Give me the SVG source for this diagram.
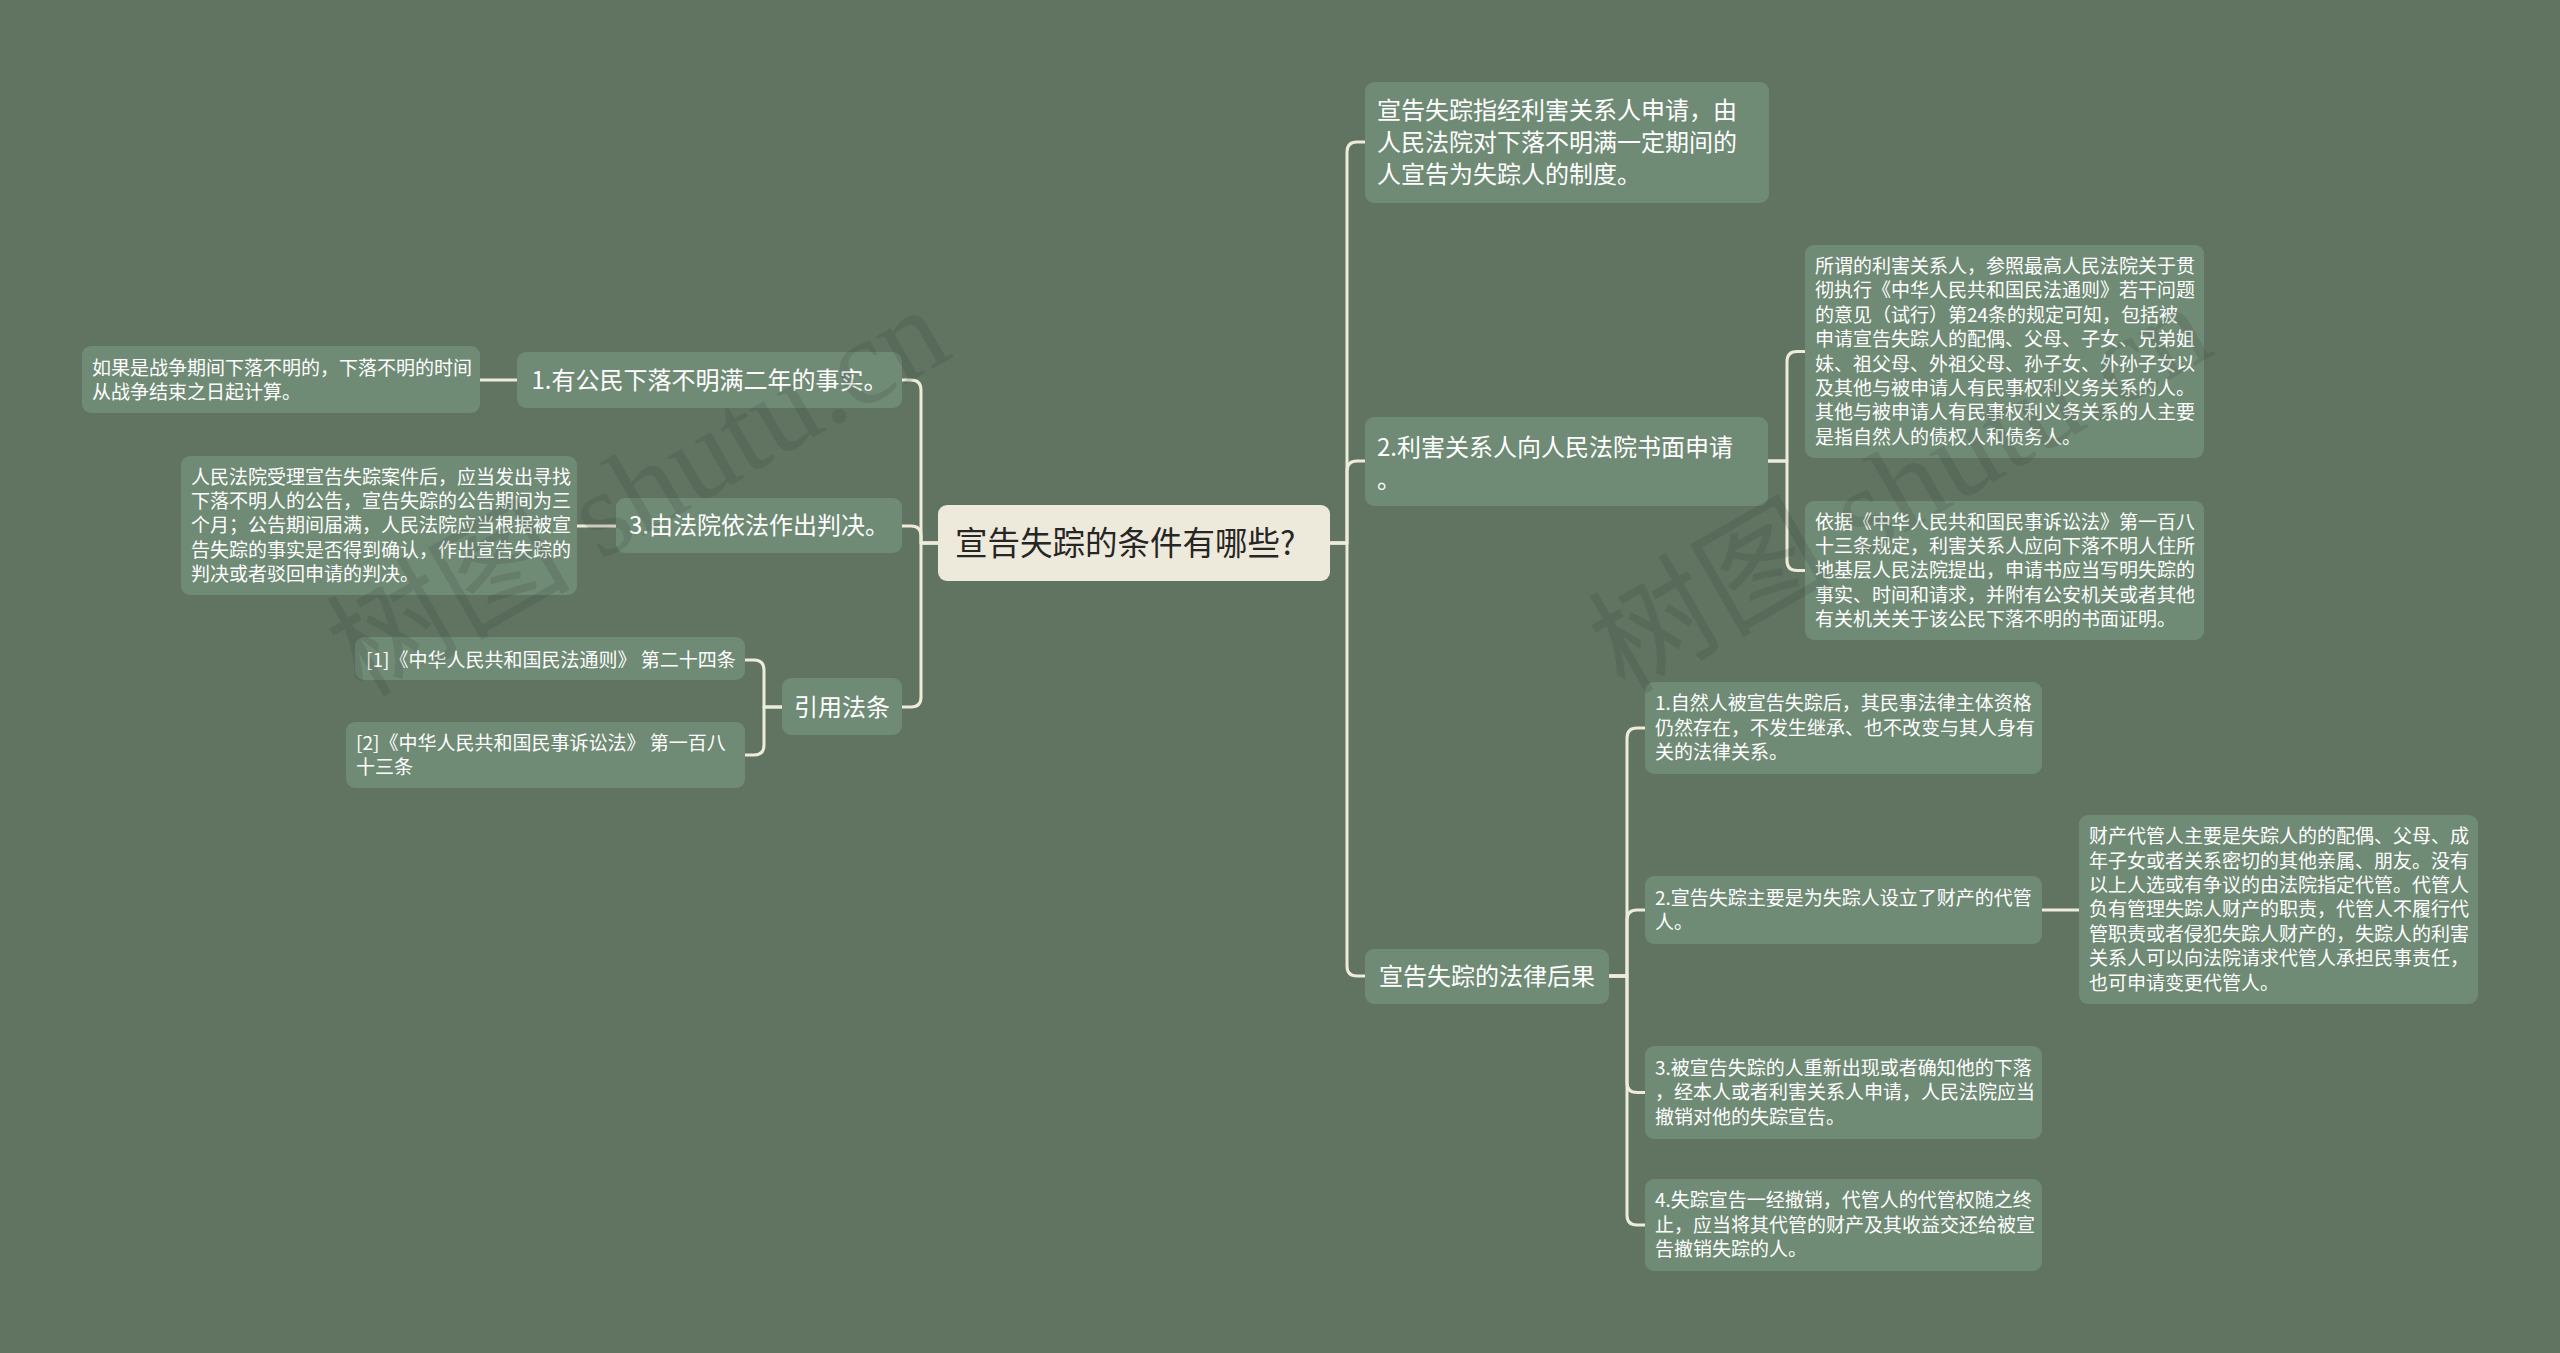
<svg xmlns="http://www.w3.org/2000/svg" width="2560" height="1353" viewBox="0 0 2560 1353">
<style>
.node rect{fill:#708b75}
.root rect{fill:#eeeadb}
.t24{font-family:"Noto Sans CJK SC","Noto Sans",sans-serif;font-size:24px;fill:#ffffff}
.t19{font-family:"Noto Sans CJK SC","Noto Sans",sans-serif;font-size:19px;fill:#ffffff}
.troot{font-family:"Noto Sans CJK SC","Noto Sans",sans-serif;font-size:32.5px;fill:#262626}
.conn path{fill:none;stroke:#eeebd9;stroke-width:3;stroke-linecap:round;stroke-linejoin:round}
.wm{font-family:"Liberation Serif","Noto Sans CJK SC",serif;font-size:122px;fill:#323a33;fill-opacity:0.17}
</style>
<rect x="0" y="0" width="2560" height="1353" fill="#617462"/>

<g id="connectors" class="conn">
<path d="M938,543 H921 V390 Q921,380 911,380 H902"/>
<path d="M938,543 H921 V536 Q921,526 911,526 H902"/>
<path d="M938,543 H921 V697 Q921,707 911,707 H902"/>
<path d="M517,380 H480"/>
<path d="M616,526 H577"/>
<path d="M782,707 H764 V670 Q764,660 754,660 H745"/>
<path d="M782,707 H764 V745 Q764,755 754,755 H745"/>
<path d="M1330,543 H1347 V152 Q1347,142 1357,142 H1365"/>
<path d="M1330,543 H1347 V471 Q1347,461 1357,461 H1365"/>
<path d="M1330,543 H1347 V966 Q1347,976 1357,976 H1365"/>
<path d="M1768,461 H1787 V361.5 Q1787,351.5 1797,351.5 H1805"/>
<path d="M1768,461 H1787 V560.5 Q1787,570.5 1797,570.5 H1805"/>
<path d="M1609,976 H1627 V738 Q1627,728 1637,728 H1645"/>
<path d="M1609,976 H1627 V920 Q1627,910 1637,910 H1645"/>
<path d="M1609,976 H1627 V1082.5 Q1627,1092.5 1637,1092.5 H1645"/>
<path d="M1609,976 H1627 V1215 Q1627,1225 1637,1225 H1645"/>
<path d="M2042,910 H2079"/>
</g>

<g id="root" class="root">
<rect x="938" y="505" width="392" height="76" rx="9"/>
<text class="troot" x="955" y="555">宣告失踪的条件有哪些?</text>
</g>

<g id="n-def" class="node">
<rect x="1365" y="82" width="404" height="121" rx="9"/>
<text class="t24"><tspan x="1377" y="119">宣告失踪指经利害关系人申请，由</tspan><tspan x="1377" y="151">人民法院对下落不明满一定期间的</tspan><tspan x="1377" y="183">人宣告为失踪人的制度。</tspan></text>
</g>

<g id="n-apply" class="node">
<rect x="1365" y="417" width="403" height="89" rx="9"/>
<text class="t24"><tspan x="1377" y="455.6">2.利害关系人向人民法院书面申请</tspan><tspan x="1377" y="487.6">。</tspan></text>
</g>

<g id="n-apply-a" class="node">
<rect x="1805" y="245" width="399" height="213" rx="9"/>
<text class="t19"><tspan x="1815" y="272.9">所谓的利害关系人，参照最高人民法院关于贯</tspan><tspan x="1815" dy="24.4">彻执行《中华人民共和国民法通则》若干问题</tspan><tspan x="1815" dy="24.4">的意见（试行）第24条的规定可知，包括被</tspan><tspan x="1815" dy="24.4">申请宣告失踪人的配偶、父母、子女、兄弟姐</tspan><tspan x="1815" dy="24.4">妹、祖父母、外祖父母、孙子女、外孙子女以</tspan><tspan x="1815" dy="24.4">及其他与被申请人有民事权利义务关系的人。</tspan><tspan x="1815" dy="24.4">其他与被申请人有民事权利义务关系的人主要</tspan><tspan x="1815" dy="24.4">是指自然人的债权人和债务人。</tspan></text>
</g>

<g id="n-apply-b" class="node">
<rect x="1805" y="501" width="399" height="139" rx="9"/>
<text class="t19"><tspan x="1815" y="528.5">依据《中华人民共和国民事诉讼法》第一百八</tspan><tspan x="1815" dy="24.4">十三条规定，利害关系人应向下落不明人住所</tspan><tspan x="1815" dy="24.4">地基层人民法院提出，申请书应当写明失踪的</tspan><tspan x="1815" dy="24.4">事实、时间和请求，并附有公安机关或者其他</tspan><tspan x="1815" dy="24.4">有关机关关于该公民下落不明的书面证明。</tspan></text>
</g>

<g id="n-conseq" class="node">
<rect x="1365" y="949" width="244" height="55" rx="9"/>
<text class="t24" x="1487" y="985" text-anchor="middle">宣告失踪的法律后果</text>
</g>

<g id="n-c1" class="node">
<rect x="1645" y="682" width="397" height="92" rx="9"/>
<text class="t19"><tspan x="1655" y="710.4">1.自然人被宣告失踪后，其民事法律主体资格</tspan><tspan x="1655" dy="24.4">仍然存在，不发生继承、也不改变与其人身有</tspan><tspan x="1655" dy="24.4">关的法律关系。</tspan></text>
</g>

<g id="n-c2" class="node">
<rect x="1645" y="876" width="397" height="68" rx="9"/>
<text class="t19"><tspan x="1655" y="904.6">2.宣告失踪主要是为失踪人设立了财产的代管</tspan><tspan x="1655" dy="24.4">人。</tspan></text>
</g>

<g id="n-c2-a" class="node">
<rect x="2079" y="815" width="399" height="189" rx="9"/>
<text class="t19"><tspan x="2089" y="843.1">财产代管人主要是失踪人的的配偶、父母、成</tspan><tspan x="2089" dy="24.4">年子女或者关系密切的其他亲属、朋友。没有</tspan><tspan x="2089" dy="24.4">以上人选或有争议的由法院指定代管。代管人</tspan><tspan x="2089" dy="24.4">负有管理失踪人财产的职责，代管人不履行代</tspan><tspan x="2089" dy="24.4">管职责或者侵犯失踪人财产的，失踪人的利害</tspan><tspan x="2089" dy="24.4">关系人可以向法院请求代管人承担民事责任，</tspan><tspan x="2089" dy="24.4">也可申请变更代管人。</tspan></text>
</g>

<g id="n-c3" class="node">
<rect x="1645" y="1046" width="397" height="93" rx="9"/>
<text class="t19"><tspan x="1655" y="1074.9">3.被宣告失踪的人重新出现或者确知他的下落</tspan><tspan x="1655" dy="24.4">，经本人或者利害关系人申请，人民法院应当</tspan><tspan x="1655" dy="24.4">撤销对他的失踪宣告。</tspan></text>
</g>

<g id="n-c4" class="node">
<rect x="1645" y="1179" width="397" height="92" rx="9"/>
<text class="t19"><tspan x="1655" y="1207.4">4.失踪宣告一经撤销，代管人的代管权随之终</tspan><tspan x="1655" dy="24.4">止，应当将其代管的财产及其收益交还给被宣</tspan><tspan x="1655" dy="24.4">告撤销失踪的人。</tspan></text>
</g>

<g id="n-l1" class="node">
<rect x="517" y="352" width="385" height="56" rx="9"/>
<text class="t24" x="709.5" y="388.6" text-anchor="middle">1.有公民下落不明满二年的事实。</text>
</g>

<g id="n-l1-a" class="node">
<rect x="82" y="346" width="398" height="67" rx="9"/>
<text class="t19"><tspan x="92" y="374.8">如果是战争期间下落不明的，下落不明的时间</tspan><tspan x="92" dy="24.4">从战争结束之日起计算。</tspan></text>
</g>

<g id="n-l3" class="node">
<rect x="616" y="498" width="286" height="55" rx="9"/>
<text class="t24" x="759" y="534" text-anchor="middle">3.由法院依法作出判决。</text>
</g>

<g id="n-l3-a" class="node">
<rect x="181" y="456" width="396" height="139" rx="9"/>
<text class="t19"><tspan x="191" y="483.5">人民法院受理宣告失踪案件后，应当发出寻找</tspan><tspan x="191" dy="24.4">下落不明人的公告，宣告失踪的公告期间为三</tspan><tspan x="191" dy="24.4">个月；公告期间届满，人民法院应当根据被宣</tspan><tspan x="191" dy="24.4">告失踪的事实是否得到确认，作出宣告失踪的</tspan><tspan x="191" dy="24.4">判决或者驳回申请的判决。</tspan></text>
</g>

<g id="n-law" class="node">
<rect x="782" y="678" width="120" height="57" rx="9"/>
<text class="t24" x="842" y="715.6" text-anchor="middle">引用法条</text>
</g>

<g id="n-law-1" class="node">
<rect x="355" y="637" width="390" height="43" rx="9"/>
<text class="t19" x="366" y="666.8">[1]《中华人民共和国民法通则》 第二十四条</text>
</g>

<g id="n-law-2" class="node">
<rect x="346" y="722" width="399" height="66" rx="9"/>
<text class="t19"><tspan x="356" y="749.8">[2]《中华人民共和国民事诉讼法》 第一百八</tspan><tspan x="356" dy="24.4">十三条</tspan></text>
</g>

<g id="watermarks">
<text class="wm" transform="translate(362,698) rotate(-30)">树图 shutu.cn</text>
<text class="wm" transform="translate(1624,695) rotate(-30)">树图 shutu.cn</text>
</g>
</svg>
